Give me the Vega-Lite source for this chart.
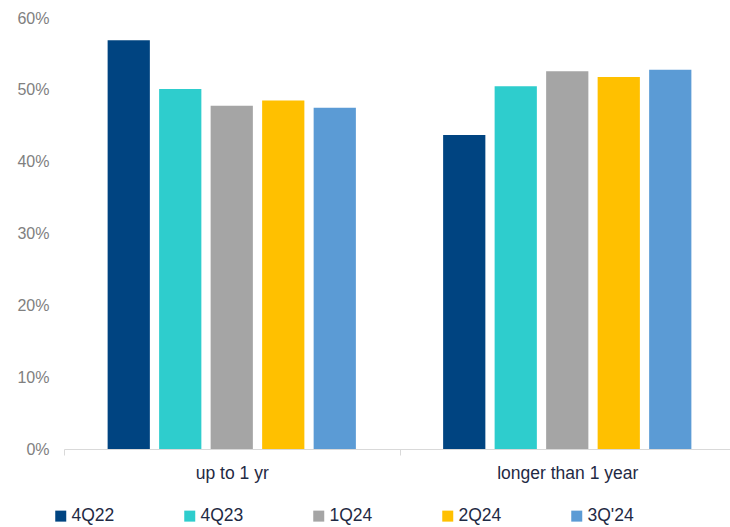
{
  "$schema": "https://vega.github.io/schema/vega-lite/v6.json",
  "autosize": {"type": "none"},
  "padding": {"left": 64, "top": 18, "right": 0, "bottom": 78},
  "width": 671,
  "height": 431,
  "background": "white",
  "config": {
    "view": {"stroke": null},
    "font": "Liberation Sans"
  },
  "data": {
    "values": [
      {"term": "up to 1 yr", "period": "4Q22", "share": 0.569},
      {"term": "up to 1 yr", "period": "4Q23", "share": 0.501},
      {"term": "up to 1 yr", "period": "1Q24", "share": 0.478},
      {"term": "up to 1 yr", "period": "2Q24", "share": 0.485},
      {"term": "up to 1 yr", "period": "3Q'24", "share": 0.475},
      {"term": "longer than 1 year", "period": "4Q22", "share": 0.437},
      {"term": "longer than 1 year", "period": "4Q23", "share": 0.505},
      {"term": "longer than 1 year", "period": "1Q24", "share": 0.526},
      {"term": "longer than 1 year", "period": "2Q24", "share": 0.518},
      {"term": "longer than 1 year", "period": "3Q'24", "share": 0.528}
    ]
  },
  "mark": {"type": "bar"},
  "encoding": {
    "x": {
      "field": "term",
      "type": "nominal",
      "sort": ["up to 1 yr", "longer than 1 year"],
      "scale": {"paddingInner": 0, "paddingOuter": 0},
      "title": null,
      "axis": {
        "labelAngle": 0,
        "labelFontSize": 17.5,
        "labelColor": "#1F2A44",
        "labelPadding": 9,
        "domainColor": "#D9D9D9",
        "tickColor": "#D9D9D9",
        "tickSize": 6,
        "tickBand": "extent",
        "grid": false
      }
    },
    "xOffset": {
      "field": "period",
      "type": "nominal",
      "sort": ["4Q22", "4Q23", "1Q24", "2Q24", "3Q'24"],
      "scale": {"paddingInner": 0.18, "paddingOuter": 0.847}
    },
    "y": {
      "field": "share",
      "type": "quantitative",
      "scale": {"domain": [0, 0.6], "nice": false},
      "title": null,
      "axis": {
        "values": [0, 0.1, 0.2, 0.3, 0.4, 0.5, 0.6],
        "format": ".0%",
        "labelFontSize": 16,
        "labelColor": "#808080",
        "labelPadding": 15,
        "ticks": false,
        "domain": false,
        "grid": false
      }
    },
    "color": {
      "field": "period",
      "type": "nominal",
      "sort": ["4Q22", "4Q23", "1Q24", "2Q24", "3Q'24"],
      "scale": {
        "domain": ["4Q22", "4Q23", "1Q24", "2Q24", "3Q'24"],
        "range": ["#004481", "#2ECDCD", "#A5A5A5", "#FFC000", "#5B9BD5"]
      },
      "legend": {
        "title": null,
        "orient": "none",
        "legendX": -12,
        "legendY": 489,
        "direction": "horizontal",
        "columns": 5,
        "columnPadding": 66,
        "symbolType": "square",
        "symbolSize": 121,
        "symbolStrokeWidth": 0,
        "labelOffset": 2,
        "labelFontSize": 17.5,
        "labelColor": "#1F2A44"
      }
    }
  }
}
